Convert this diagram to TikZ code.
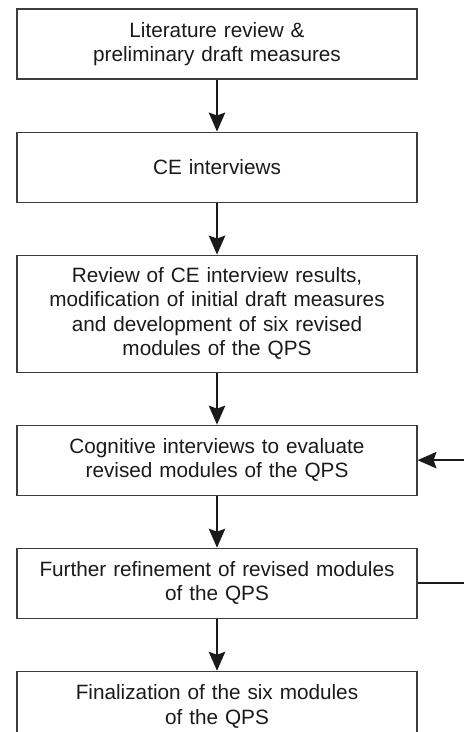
\documentclass[tikz,border=0pt]{standalone}
\usepackage{fontspec}
\setmainfont{Liberation Sans}
\usepackage{xcolor}
\usetikzlibrary{positioning, arrows.meta}
\definecolor{flowDark}{HTML}{1A1A1A}
\definecolor{flowEdge}{HTML}{3C3C3C}

\begin{document}
\begin{tikzpicture}[
  every node/.style={font=\fontsize{11.8}{13.9}\selectfont},
  stagebox/.style={
    rectangle, draw=flowEdge, line width=0.6pt,
    minimum width=8cm, minimum height=1.4cm,
    text width=7.8cm, align=center, text=flowDark, inner sep=0pt
  },
  flow/.style={
    draw=flowDark, line width=0.9pt,
    -{Stealth[length=3.8mm, width=3.3mm, inset=0.6mm]}
  },
  node distance=1.04cm,
]
\useasboundingbox (0,0) rectangle (9.26,-14.64);

% === STAGES ===
\node[stagebox] (lit) at (4.34,-0.88) {Literature review \&\\preliminary draft measures};
\node[stagebox, below=of lit] (ce) {CE interviews};
\node[stagebox, below=of ce, minimum height=2.34cm] (rev)
  {Review of CE interview results,\\modification of initial draft measures\\and development of six revised\\modules of the QPS};
\node[stagebox, below=of rev] (cog) {Cognitive interviews to evaluate\\revised modules of the QPS};
\node[stagebox, below=of cog] (ref) {Further refinement of revised modules\\of the QPS};
\node[stagebox, below=of ref] (fin) {Finalization of the six modules\\of the QPS};

% === MAIN FLOW ===
\draw[flow] (lit) -- (ce);
\draw[flow] (ce) -- (rev);
\draw[flow] (rev) -- (cog);
\draw[flow] (cog) -- (ref);
\draw[flow] (ref) -- (fin);

% === FEEDBACK LOOP ===
\coordinate (loop-top) at ([xshift=0.92cm]cog.east);
\coordinate (loop-bot) at ([xshift=0.92cm]ref.east);
\draw[draw=flowDark, line width=0.9pt] (ref.east) -- (loop-bot);
\draw[flow] (loop-top) -- (cog.east);

\end{tikzpicture}
\end{document}
